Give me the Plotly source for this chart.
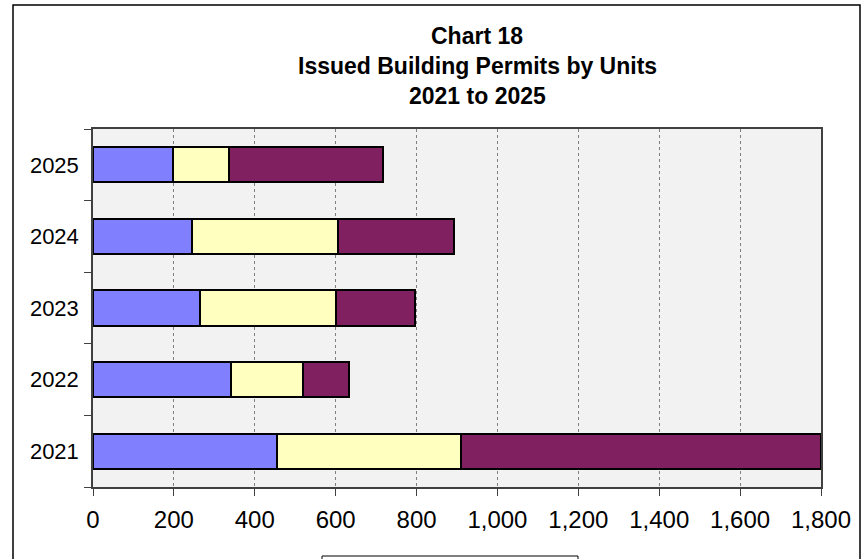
import plotly.graph_objects as go

# Issued building permits by units, stacked by series
years = ["2021", "2022", "2023", "2024", "2025"]
series_a = [456, 342, 265, 245, 197]
series_b = [454, 177, 337, 361, 139]
series_c = [890, 114, 193, 286, 380]
series_names = ["Series A", "Series B", "Series C"]
colors = ["#8080FF", "#FFFFC0", "#802060"]
x_ticks = [0, 200, 400, 600, 800, 1000, 1200, 1400, 1600, 1800]
x_tick_text = ["0", "200", "400", "600", "800", "1,000", "1,200", "1,400", "1,600", "1,800"]

FONT = "Liberation Sans, Arial, sans-serif"

fig = go.Figure()
for name, vals, col in zip(series_names, [series_a, series_b, series_c], colors):
    fig.add_trace(go.Bar(
        y=years, x=vals, name=name, orientation="h",
        marker=dict(color=col, line=dict(color="#000000", width=2)),
        showlegend=False,
    ))

W, H = 863, 559
L, R, T, B = 93, 42, 129, 72
pw, ph = W - L - R, H - T - B


def px(x):
    return (x - L) / pw


def py(y):
    return (H - B - y) / ph


fig.update_layout(
    width=W, height=H,
    margin=dict(l=L, r=R, t=T, b=B, autoexpand=False),
    barmode="stack",
    bargap=0.51,
    paper_bgcolor="#FFFFFF",
    plot_bgcolor="#F2F2F2",
    font=dict(family=FONT, color="#000000"),
    xaxis=dict(
        range=[0, 1800], tickvals=x_ticks, ticktext=x_tick_text,
        showgrid=True, gridcolor="#808080", griddash="dot", gridwidth=1,
        zeroline=False, showline=True, linecolor="#404040", linewidth=1.5,
        mirror=True, ticks="outside", ticklen=7, tickcolor="#404040",
        tickfont=dict(size=24, family=FONT, color="#000000"),
        ticklabelstandoff=3,
    ),
    yaxis=dict(
        type="category", categoryorder="array", categoryarray=years,
        showgrid=False, zeroline=False, showline=True, linecolor="#404040",
        linewidth=1.5, mirror=True, ticks="outside", ticklen=7,
        tickson="boundaries", tickcolor="#404040",
        tickfont=dict(size=22, family=FONT, color="#000000"),
        ticklabelstandoff=8,
    ),
)

# Title lines
for text, y in [("Chart 18", 36), ("Issued Building Permits by Units", 66), ("2021 to 2025", 96)]:
    fig.add_annotation(
        text="<b>%s</b>" % text, x=px(477), y=py(y), xref="paper", yref="paper",
        showarrow=False, xanchor="center", yanchor="middle",
        font=dict(size=23, family=FONT, color="#000000"),
    )

# Outer chart frame
fig.add_shape(type="rect", xref="paper", yref="paper",
              x0=px(13), x1=px(860), y0=py(570), y1=py(5),
              line=dict(color="#000000", width=1.5), fillcolor="rgba(0,0,0,0)", layer="above")

# Legend frame at the bottom
fig.add_shape(type="rect", xref="paper", yref="paper",
              x0=px(322), x1=px(578), y0=py(600), y1=py(556),
              line=dict(color="#000000", width=1), fillcolor="#FFFFFF", layer="above")

fig.write_html("out.html")
